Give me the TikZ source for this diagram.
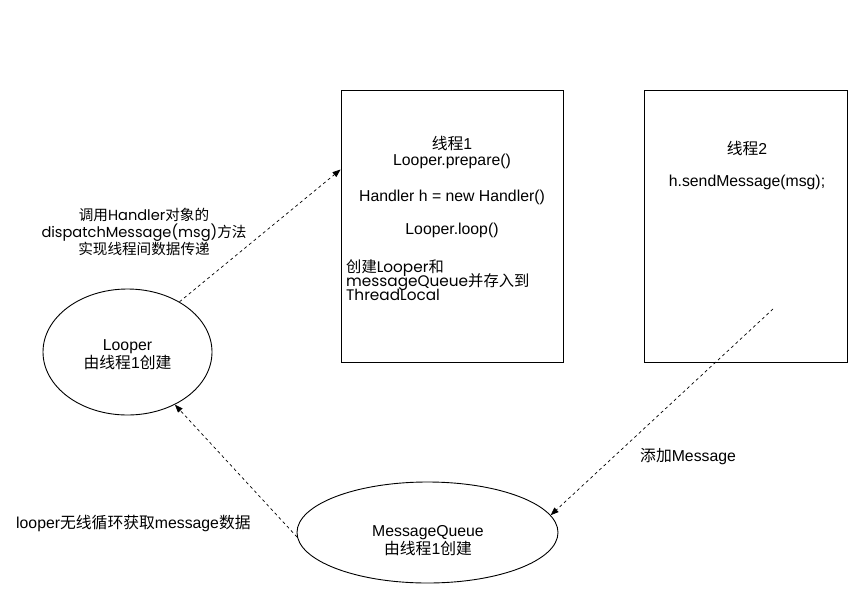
\documentclass[tikz,border=0pt]{standalone}
\usepackage{fontspec}
\setmainfont{Liberation Sans}
\newfontfamily\cjk{Noto Sans CJK SC}
\newfontfamily\geo{Poppins}
\newcommand{\zh}[1]{{\cjk #1}}
\usetikzlibrary{shapes.geometric,arrows.meta}
\begin{document}
\begin{tikzpicture}[x=1pt,y=-1pt,
  boxst/.style={draw,line width=0.9pt,minimum width=#1,minimum height=272pt,inner sep=0pt},
  ellst/.style={draw,ellipse,line width=0.9pt,inner sep=0pt},
  txt/.style={font=\fontsize{15.8}{18}\selectfont,inner sep=0pt,align=center},
  gtxt/.style={font={\fontsize{15.3}{14}\selectfont\geo\lineskiplimit=-20pt},inner sep=0pt},
  ltxt/.style={font={\fontsize{14.6}{16.6}\selectfont\geo\lineskiplimit=-20pt},inner sep=0pt},
  conn/.style={line width=0.7pt,dash pattern=on 3pt off 3pt,-{Triangle[length=8pt,width=6pt]}}]
\useasboundingbox (0,0) rectangle (851,600);
\fill[white] (0,0) rectangle (851,600);
% boxes
\node[boxst=222pt] (b1) at (452,226) {};
\node[boxst=203pt] (b2) at (745.5,226) {};
% ellipses
\node[ellst,minimum width=169pt,minimum height=126pt] (lp) at (127.5,352) {};
\node[ellst,minimum width=261pt,minimum height=101pt] (mq) at (427.5,532.5) {};
% box 1 text
\node[txt] (t1a) at (452,143) {\zh{线程}1};
\node[txt] (t1b) at (452,161) {Looper.prepare()};
\node[txt] (t1c) at (452,197) {Handler h = new Handler()};
\node[txt] (t1d) at (452,230) {Looper.loop()};
\node[gtxt,anchor=north west,align=left] (t1e) at (346,259) {\zh{创建}Looper\zh{和}\\messageQueue\zh{并存入到}\\ThreadLocal};
% box 2 text
\node[txt] (t2a) at (747,148) {\zh{线程}2};
\node[txt] (t2b) at (747,182) {h.sendMessage(msg);};
% ellipse text
\node[txt] (lpt) at (127.5,355) {Looper\\\zh{由线程}1\zh{创建}};
\node[txt] (mqt) at (428,541) {MessageQueue\\\zh{由线程}1\zh{创建}};
% labels
\node[ltxt,align=center] (l1) at (144,232) {\zh{调用}Handler\zh{对象的}\\dispatchMessage(msg)\zh{方法}\\\zh{实现线程间数据传递}};
\node[txt,anchor=west] (l2) at (640,457) {\zh{添加}Message};
\node[txt,anchor=west] (l3) at (16,523) {looper\zh{无线循环获取}message\zh{数据}};
% connectors
\coordinate (s2) at (773,309);
\draw[conn] (lp.44) -- ([yshift=-80pt]b1.north west);
\draw[conn] (s2) -- (mq.8);
\draw[conn] (mq.182) -- (lp.-48);
\end{tikzpicture}
\end{document}
